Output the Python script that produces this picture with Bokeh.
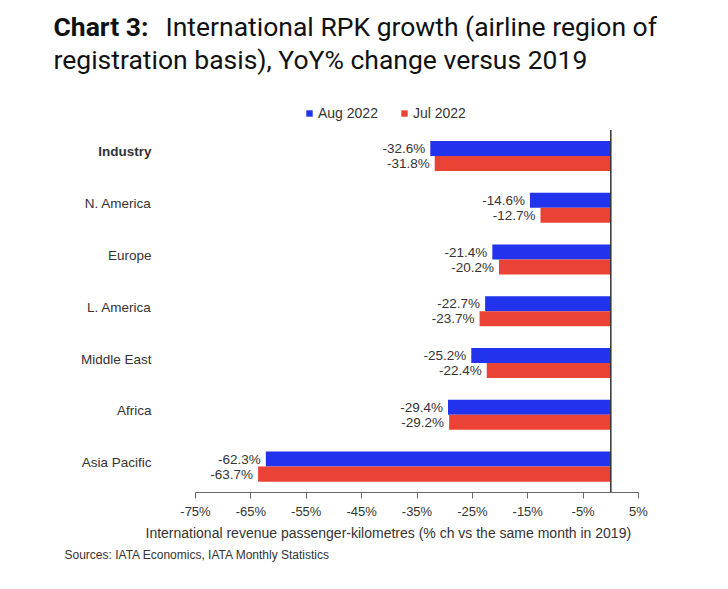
from bokeh.plotting import figure
from bokeh.models import (ColumnDataSource, Range1d, Label, Legend, LegendItem, Title,
                          FixedTicker, PrintfTickFormatter)
from bokeh.core.properties import value
from bokeh.embed import file_html
from bokeh.resources import INLINE

regions = ["Industry", "N. America", "Europe", "L. America", "Middle East", "Africa", "Asia Pacific"]
aug_2022 = [-32.6, -14.6, -21.4, -22.7, -25.2, -29.4, -62.3]
jul_2022 = [-31.8, -12.7, -20.2, -23.7, -22.4, -29.2, -63.7]
x_ticks = [-75, -65, -55, -45, -35, -25, -15, -5, 5]

BLUE = "#2233ee"
RED = "#ea4335"
TXT = "#333333"
FONT = "Liberation Sans"
TFONT = "Roboto"

n = len(regions)
ypos = [n - 1 - i for i in range(n)]          # Industry on top
off = 0.145
h = 0.29

src = ColumnDataSource(dict(
    region=regions,
    y=ypos,
    y_aug=[v + off for v in ypos],
    y_jul=[v - off for v in ypos],
    aug=aug_2022,
    jul=jul_2022,
    aug_lbl=[f"{v:.1f}%" for v in aug_2022],
    jul_lbl=[f"{v:.1f}%" for v in jul_2022],
    style=["bold" if r == "Industry" else "normal" for r in regions],
))

W, H = 712, 573
FRAME_BOTTOM = 492          # pixel row of the x axis
# x range chosen so that -75 sits at px 195 and 5 at px 638 within a full-width frame
px_per = (638 - 195) / (x_ticks[-1] - x_ticks[0])
x0 = x_ticks[0] - 195 / px_per
x1 = x_ticks[-1] + (W - 638) / px_per
# y range: categories span -0.5..n-0.5 over the lower part of the frame, extra room on top
py_per = (FRAME_BOTTOM - 129.6) / n
y1 = (n - 0.5) + 129.6 / py_per

p = figure(width=W, height=H,
           x_range=Range1d(x0, x1), y_range=Range1d(-0.5, y1),
           output_backend="svg", toolbar_location=None,
           y_axis_location=None,
           min_border_left=0, min_border_right=0,
           min_border_top=0, min_border_bottom=H - FRAME_BOTTOM)
p.grid.visible = False
p.outline_line_color = None
p.background_fill_color = "white"
p.border_fill_color = "white"

r_aug = p.hbar(y="y_aug", right="aug", left=0, height=h,
               color=BLUE, line_color=None, source=src)
r_jul = p.hbar(y="y_jul", right="jul", left=0, height=h,
               color=RED, line_color=None, source=src)

p.text(x="aug", y="y_aug", text="aug_lbl", source=src,
       x_offset=-5, text_align="right", text_baseline="middle",
       text_font=value(FONT), text_font_size="13.5px", text_color=TXT)
p.text(x="jul", y="y_jul", text="jul_lbl", source=src,
       x_offset=-5, text_align="right", text_baseline="middle",
       text_font=value(FONT), text_font_size="13.5px", text_color=TXT)

# zero line over the category area
p.segment(x0=0, y0=-0.5, x1=0, y1=n - 0.5, line_color="#333333", line_width=1.5)

# category labels
p.text(x=x_ticks[0], y="y", text="region", source=src,
       x_offset=-44, y_offset=-4, text_align="right", text_baseline="middle",
       text_font=value(FONT), text_font_size="13.5px",
       text_font_style="style", text_color=TXT)

ax = p.xaxis[0]
ax.bounds = (x_ticks[0], x_ticks[-1])
ax.ticker = FixedTicker(ticks=x_ticks)
ax.formatter = PrintfTickFormatter(format="%d%%")
ax.major_label_text_font = FONT
ax.major_label_text_font_size = "13px"
ax.major_label_text_color = TXT
ax.axis_line_color = "#666666"
ax.major_tick_line_color = "#666666"
ax.major_tick_out = 6
ax.major_tick_in = 0
ax.minor_tick_out = 0
ax.minor_tick_in = 0
ax.major_label_standoff = 5

legend = Legend(items=[LegendItem(label="Aug 2022", renderers=[r_aug]),
                       LegendItem(label="Jul 2022", renderers=[r_jul])],
                location=(305, FRAME_BOTTOM - 121), orientation="horizontal",
                glyph_width=8, glyph_height=8, label_standoff=5, spacing=22,
                label_height=16, label_text_font=FONT, label_text_font_size="14px",
                label_text_color=TXT, padding=0, margin=0,
                border_line_color=None, background_fill_alpha=0)
p.add_layout(legend)

p.add_layout(Label(x=53, y=FRAME_BOTTOM - 25.5, x_units="screen", y_units="screen",
                   text="Chart 3:", text_font=TFONT, text_font_style="bold",
                   text_font_size="26.5px", text_baseline="alphabetic", text_color="#111111"))
p.add_layout(Label(x=165, y=FRAME_BOTTOM - 25.5, x_units="screen", y_units="screen",
                   text="International RPK growth (airline region of",
                   text_font=TFONT, text_font_size="26.5px",
                   text_baseline="alphabetic", text_color="#111111"))
p.add_layout(Label(x=53, y=FRAME_BOTTOM - 59, x_units="screen", y_units="screen",
                   text="registration basis), YoY% change versus 2019",
                   text_font=TFONT, text_font_size="26.5px",
                   text_baseline="alphabetic", text_color="#111111"))

p.add_layout(Title(text="International revenue passenger-kilometres (% ch vs the same month in 2019)",
                   align="left", offset=145, standoff=3,
                   text_font=FONT, text_font_size="14px", text_font_style="normal",
                   text_color=TXT), "below")
p.add_layout(Title(text="Sources: IATA Economics, IATA Monthly Statistics",
                   align="left", offset=64, standoff=6,
                   text_font=FONT, text_font_size="12px", text_font_style="normal",
                   text_color=TXT), "below")

open("out.html", "w").write(file_html(p, INLINE))
